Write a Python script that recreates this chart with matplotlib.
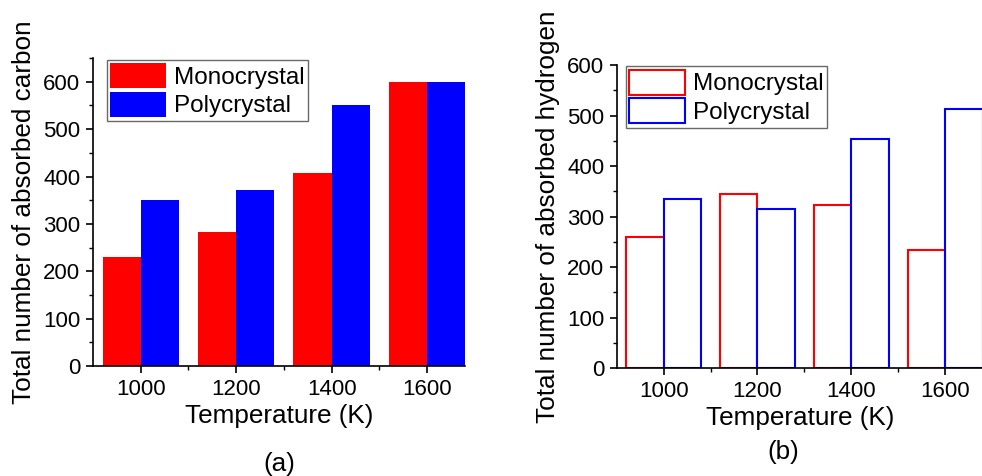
import numpy as np
import matplotlib
matplotlib.use("Agg")
import matplotlib.pyplot as plt
from matplotlib.ticker import MultipleLocator

plt.rcParams['font.family'] = ['Liberation Sans', 'DejaVu Sans']

# data
temps = [1000, 1200, 1400, 1600]
carbon_mono = [230, 283, 407, 600]
carbon_poly = [350, 372, 550, 600]
hydrogen_mono = [260, 344, 323, 234]
hydrogen_poly = [335, 315, 453, 513]
series_names = ['Monocrystal', 'Polycrystal']

bar_w = 80
tick_fs = 16
label_fs = 18.8
legend_fs = 17.5

fig = plt.figure(figsize=(9.82, 4.76), dpi=100)
ax1 = fig.add_axes([0.0947, 0.231, 0.379, 0.647])
ax2 = fig.add_axes([0.628, 0.2263, 0.3727, 0.637])

x = np.array(temps)

# (a) filled bars
ax1.bar(x - bar_w / 2, carbon_mono, width=bar_w, color='#ff0000', label=series_names[0])
ax1.bar(x + bar_w / 2, carbon_poly, width=bar_w, color='#0000ff', label=series_names[1])
ax1.set_ylim(0, 650)
ax1.set_ylabel('Total number of absorbed carbon', fontsize=label_fs, labelpad=5)

# (b) open bars
ax2.bar(x - bar_w / 2, hydrogen_mono, width=bar_w, facecolor='none', edgecolor='#ff0000',
        linewidth=1.5, label=series_names[0])
ax2.bar(x + bar_w / 2, hydrogen_poly, width=bar_w, facecolor='none', edgecolor='#0000ff',
        linewidth=1.5, label=series_names[1])
ax2.set_ylim(0, 600)
ax2.set_ylabel('Total number of absorbed hydrogen', fontsize=label_fs, labelpad=5)

for ax in (ax1, ax2):
    ax.set_xlim(900, 1680)
    ax.set_xticks(temps)
    ax.set_xticks([1100, 1300, 1500], minor=True)
    ax.yaxis.set_major_locator(MultipleLocator(100))
    ax.yaxis.set_minor_locator(MultipleLocator(50))
    for s in ('top', 'right'):
        ax.spines[s].set_visible(False)
    for s in ('left', 'bottom'):
        ax.spines[s].set_linewidth(1.2)
        ax.spines[s].set_zorder(3)
    ax.tick_params(which='major', direction='out', length=5, width=1.2, labelsize=tick_fs, pad=4)
    ax.tick_params(which='minor', direction='out', length=3, width=1.0)
    ax.set_xlabel('Temperature (K)', fontsize=label_fs, labelpad=3)
    leg = ax.legend(loc='upper left', fontsize=legend_fs, frameon=True, fancybox=False,
                    handlelength=2.3, handleheight=1.2, labelspacing=0.12,
                    borderpad=0.15, handletextpad=0.3, borderaxespad=0.0,
                    bbox_to_anchor=(0.037, 0.995) if ax is ax1 else (0.025, 0.997))
    leg.get_frame().set_edgecolor('#444444')
    leg.get_frame().set_linewidth(1.0)

fig.text(0.2845, 0.025, '(a)', fontsize=label_fs, ha='center', va='center')
fig.text(0.7975, 0.050, '(b)', fontsize=label_fs, ha='center', va='center')

fig.savefig('out.png', dpi=100)
